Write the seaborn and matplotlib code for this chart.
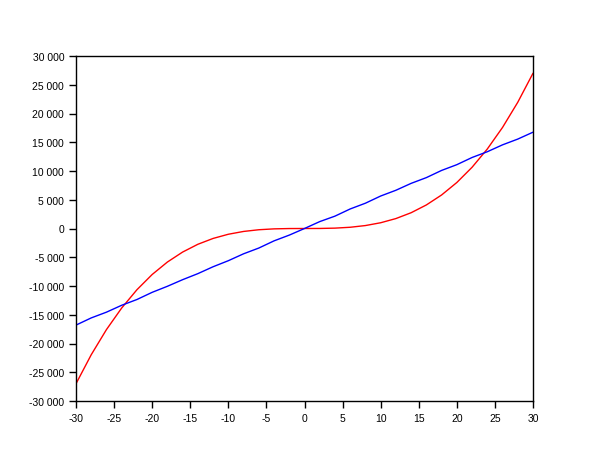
import matplotlib
matplotlib.use("Agg")
import matplotlib.pyplot as plt
import matplotlib.ticker as mticker
import seaborn as sns
import pandas as pd

x_vals = list(range(-30, 31, 2))
red_vals = [-27000, -21952, -17576, -13824, -10648, -8000, -5832, -4096, -2744, -1728,
            -1000, -512, -216, -64, -8, 0, 8, 64, 216, 512,
            1000, 1728, 2744, 4096, 5832, 8000, 10648, 13824, 17576, 21952, 27000]
blue_vals = [-16800, -15550, -14550, -13350, -12350, -11100, -10050, -8900, -7850, -6650,
             -5600, -4400, -3400, -2150, -1150, 0, 1200, 2150, 3400, 4400,
             5650, 6650, 7850, 8850, 10100, 11100, 12350, 13350, 14550, 15550, 16750]

df = pd.DataFrame({"x": x_vals, "red": red_vals, "blue": blue_vals})

sns.set_style("ticks")
plt.rcParams['font.family'] = ['Liberation Sans', 'DejaVu Sans']
plt.rcParams['axes.unicode_minus'] = False

fig = plt.figure(figsize=(6.1, 4.6), dpi=100)
ax = fig.add_axes([76/610, 1-402/460, (533-76)/610, (402-57)/460])
sns.lineplot(data=df, x="x", y="red", color="#ff0000", linewidth=1.0, ax=ax)
sns.lineplot(data=df, x="x", y="blue", color="#0000ff", linewidth=1.0, ax=ax)

ax.set_xlim(-30, 30)
ax.set_ylim(-30000, 30000)
ax.set_xticks(range(-30, 31, 5))
ax.set_yticks(range(-30000, 30001, 5000))
ax.yaxis.set_major_formatter(mticker.FuncFormatter(lambda v, p: f"{int(v):,}".replace(",", " ")))
ax.set_xlabel("")
ax.set_ylabel("")
for s in ax.spines.values():
    s.set_visible(True)
    s.set_color("black")
    s.set_linewidth(1.0)
ax.tick_params(axis="both", labelsize=7.5, length=5, width=1, color="black",
               labelcolor="black", direction="out")
fig.savefig("out.png", dpi=100, facecolor="white")
